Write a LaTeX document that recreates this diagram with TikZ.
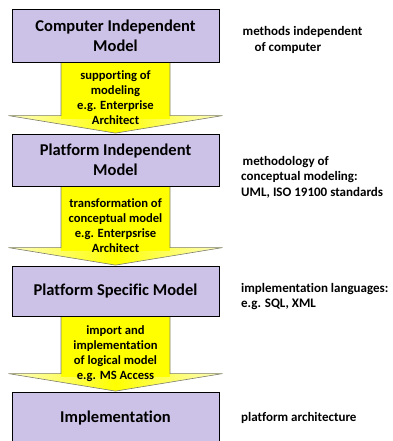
\documentclass[tikz,border=0pt]{standalone}
\usepackage{fontspec}
\setmainfont[Ligatures={NoCommon}]{Carlito}
\usetikzlibrary{calc,backgrounds}
\definecolor{boxfill}{RGB}{204,193,230}
\definecolor{arrowfill}{RGB}{255,255,0}
\definecolor{arrowpale}{RGB}{252,252,196}
\definecolor{arrowedge}{RGB}{125,125,125}
\tikzset{
  modelbox/.style={draw=black, line width=0.8pt, fill=boxfill,
    minimum width=207pt, inner sep=0pt, align=center,
    font=\fontsize{16.5}{20}\selectfont\bfseries},
  flowtext/.style={align=center, inner sep=0pt,
    font=\fontsize{12.6}{15}\selectfont\bfseries},
  sidetext/.style={inner sep=0pt, align=left, anchor=west,
    font=\fontsize{13}{15.5}\selectfont\bfseries},
  arrowline/.style={draw=arrowedge, line width=0.6pt, line join=miter},
}
% block arrow from the bottom of box #1 to the top of box #2,
% label node #3 with text #4
\newcommand\flowarrow[4]{%
  \begin{scope}[on background layer]
    \fill[arrowfill]
      ($(#1.south)+(-54.5,0)$) -- ($(#2.north)+(-54.5,-18)$)
      -- ($(#2.north)+(-107,-18)$) -- ($(#2.north)+(0,-0.5)$)
      -- ($(#2.north)+(107,-18)$) -- ($(#2.north)+(54.5,-18)$)
      -- ($(#1.south)+(54.5,0)$) -- cycle;
    \shade[left color=arrowpale, right color=arrowpale, middle color=arrowfill]
      ($(#2.north)+(-107,-18)$) -- ($(#2.north)+(0,-0.5)$)
      -- ($(#2.north)+(107,-18)$) -- cycle;
    \fill[arrowfill]
      ($(#2.north)+(-54.5,-18.3)$) rectangle ($(#2.north)+(54.5,-15)$);
    \path[arrowline]
      ($(#1.south)+(-54.5,0)$) -- ($(#2.north)+(-54.5,-18)$)
      -- ($(#2.north)+(-107,-18)$) -- ($(#2.north)+(0,-0.5)$)
      -- ($(#2.north)+(107,-18)$) -- ($(#2.north)+(54.5,-18)$)
      -- ($(#1.south)+(54.5,0)$);
  \end{scope}
  \node[flowtext] (#3) at ($(#1.south)!0.5!(#2.north)$) {#4};%
}
\begin{document}
\begin{tikzpicture}[x=1pt,y=-1pt]
  \useasboundingbox (0,0) rectangle (392,441);

  % model levels
  \node[modelbox, minimum height=53pt] (cim)  at (115.5,35.5) {Computer Independent\\Model};
  \node[modelbox, minimum height=52pt] (pim)  at (115.5,160)  {Platform Independent\\Model};
  \node[modelbox, minimum height=50pt] (psm)  at (115.5,291)  {Platform Specific Model};
  \node[modelbox, minimum height=52pt] (impl) at (115.5,418)  {Implementation};

  % transitions between levels
  \flowarrow{cim}{pim}{tr1}{supporting of\\modeling\\e.g. Enterprise\\Architect}
  \flowarrow{pim}{psm}{tr2}{transformation of\\conceptual model\\e.g. Enterpsrise\\Architect}
  \flowarrow{psm}{impl}{tr3}{import and\\implementation\\of logical model\\e.g. MS Access}

  % notes on the right
  \node[sidetext] (cimnote) at (242.5,40) {methods independent\\\hspace*{12pt}of computer};
  \node[sidetext] (pimnote) at (241,177)
    {\hspace*{1.5pt}methodology of\\conceptual modeling:\\UML, ISO 19100 standards};
  \node[sidetext] (psmnote) at (241,296.5)
    {implementation languages:\\e.g. SQL, XML};
  \node[sidetext] (implnote) at (241,418) {platform architecture};
\end{tikzpicture}
\end{document}
